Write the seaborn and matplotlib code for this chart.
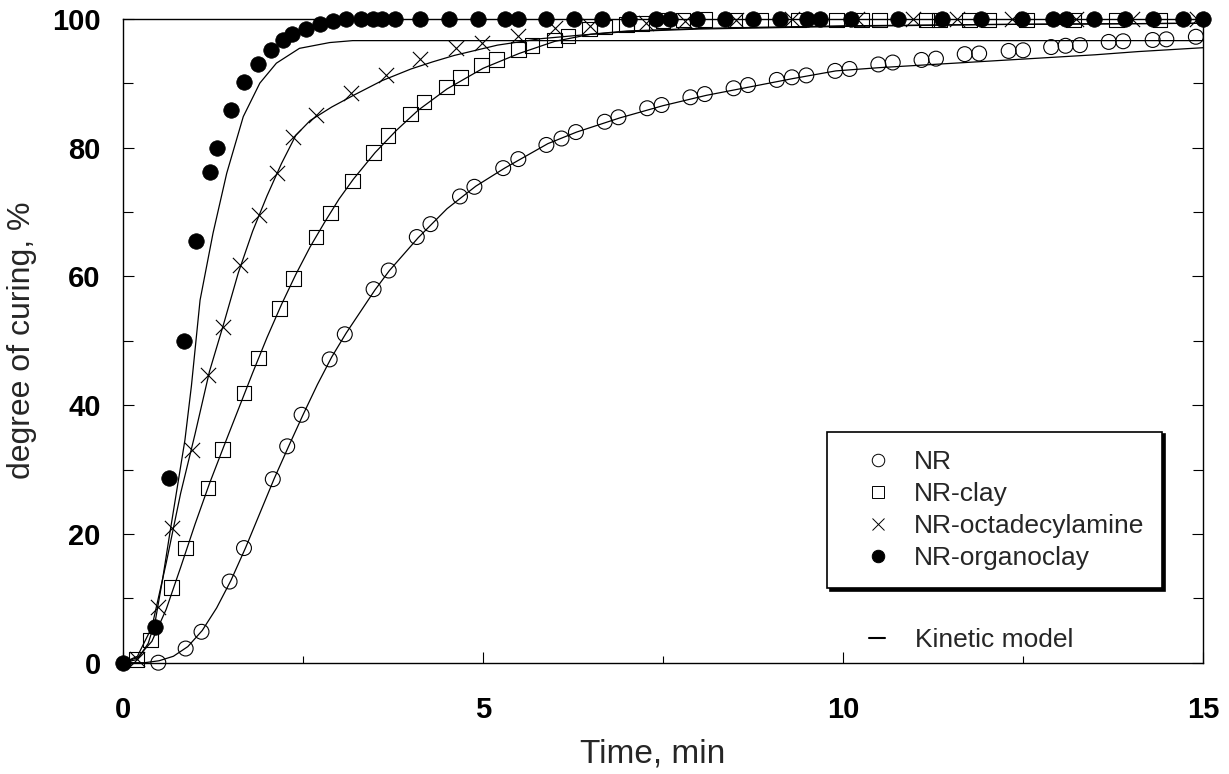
import numpy as np
import pandas as pd
import matplotlib
matplotlib.use("Agg")
import matplotlib.pyplot as plt
from matplotlib.lines import Line2D
from matplotlib.ticker import MultipleLocator
import seaborn as sns

# Measured cure data (time in min, degree of curing in %)
nr_t = [0.49, 0.87, 1.09, 1.48, 1.68, 2.08, 2.28, 2.48, 2.87, 3.08,
        3.48, 3.69, 4.08, 4.27, 4.68, 4.88, 5.28, 5.49, 5.88, 6.09,
        6.29, 6.69, 6.88, 7.28, 7.48, 7.88, 8.08, 8.48, 8.68, 9.08,
        9.29, 9.49, 9.89, 10.09, 10.49, 10.69, 11.09, 11.29, 11.69, 11.89,
        12.3, 12.5, 12.89, 13.09, 13.29, 13.69, 13.89, 14.3, 14.49, 14.9]
nr_y = [0.0, 2.2, 4.8, 12.6, 17.8, 28.5, 33.6, 38.5, 47.1, 51.0,
        58.0, 60.9, 66.1, 68.1, 72.4, 73.9, 76.8, 78.2, 80.4, 81.4,
        82.4, 84.0, 84.7, 86.1, 86.6, 87.8, 88.3, 89.2, 89.7, 90.5,
        90.9, 91.2, 91.9, 92.2, 92.9, 93.2, 93.6, 93.8, 94.5, 94.6,
        95.0, 95.1, 95.6, 95.8, 95.9, 96.4, 96.5, 96.7, 96.8, 97.2]

clay_t = [0.19, 0.38, 0.67, 0.87, 1.18, 1.38, 1.68, 1.88, 2.17, 2.37,
          2.68, 2.88, 3.19, 3.48, 3.68, 3.99, 4.18, 4.49, 4.69, 4.98,
          5.19, 5.49, 5.68, 5.99, 6.18, 6.48, 6.69, 6.99, 7.2, 7.5,
          7.78, 8.08, 8.5, 8.85, 9.38, 9.91, 10.26, 10.51, 11.16, 11.34,
          11.76, 12.02, 12.55, 13.2, 13.8, 14.4]
clay_y = [0.5, 3.5, 11.7, 17.8, 27.1, 33.1, 41.9, 47.3, 55.0, 59.7,
          66.1, 69.8, 74.8, 79.2, 81.9, 85.2, 87.1, 89.4, 90.9, 92.8,
          93.7, 95.2, 95.8, 96.7, 97.3, 98.4, 98.7, 99.1, 99.3, 99.7,
          99.8, 99.9, 99.8, 99.8, 99.8, 99.8, 99.8, 99.8, 99.8, 99.8,
          99.8, 99.8, 99.8, 99.8, 99.8, 99.8]

octa_t = [0.19, 0.48, 0.68, 0.96, 1.18, 1.39, 1.62, 1.89, 2.14, 2.36,
          2.68, 3.16, 3.65, 4.13, 4.62, 4.98, 5.49, 6.0, 6.48, 7.26,
          7.8, 8.52, 9.29, 10.19, 10.97, 11.58, 12.34, 13.24, 14.01, 14.91]
octa_y = [0.5, 8.6, 20.9, 33.0, 44.7, 52.2, 61.8, 69.5, 76.1, 81.6,
          85.0, 88.5, 91.3, 93.7, 95.4, 96.3, 97.3, 98.6, 98.8, 99.3,
          99.6, 99.8, 99.9, 100, 100, 100, 100, 100, 100, 100]

org_t = [0.0, 0.45, 0.64, 0.84, 1.01, 1.21, 1.30, 1.50, 1.68, 1.87,
         2.06, 2.22, 2.35, 2.54, 2.74, 2.92, 3.10, 3.31, 3.47, 3.59,
         3.78, 4.13, 4.53, 4.93, 5.31, 5.49, 5.88, 6.26, 6.65, 7.03,
         7.40, 7.60, 7.97, 8.36, 8.75, 9.13, 9.50, 9.68, 10.11, 10.76,
         11.37, 11.92, 12.48, 12.92, 13.10, 13.49, 13.92, 14.31, 14.72, 15.0]
org_y = [0.0, 5.6, 28.7, 49.9, 65.5, 76.2, 80.0, 85.9, 90.1, 93.0,
         95.1, 96.7, 97.6, 98.4, 99.2, 99.7, 99.9, 100, 100, 100,
         100, 100, 100, 100, 100, 100, 100, 100, 100, 100,
         100, 100, 100, 100, 100, 100, 100, 100, 100, 100,
         100, 100, 100, 100, 100, 100, 100, 100, 100, 100]

# Kinetic model curves
nr_model_t = [0, 0.3, 0.5, 0.7, 0.9, 1.1, 1.3, 1.5, 1.7, 1.9, 2.1, 2.3, 2.5,
              2.7, 2.9, 3.1, 3.5, 3.7, 4.1, 4.5, 4.9, 5.3, 5.9, 6.3, 6.9,
              7.5, 8.1, 8.7, 9.3, 9.9, 10.5, 11.1, 11.7, 12.3, 12.9, 13.5,
              14.1, 15.0]
nr_model_y = [0, 0, 0.3, 1.0, 2.5, 5.0, 8.5, 12.8, 17.8, 23.2, 28.6, 33.6, 38.5,
              43.2, 47.5, 51.2, 57.9, 60.9, 66.0, 70.5, 74.0, 76.8, 80.6, 82.4, 84.6,
              86.5, 88.1, 89.4, 90.7, 91.9, 92.4, 92.8, 93.2, 93.6, 94.0, 94.4,
              94.9, 95.5]

clay_model_t = [0, 0.2, 0.4, 0.6, 0.8, 1.0, 1.2, 1.4, 1.6, 1.8, 2.0, 2.2, 2.4,
                2.6, 2.8, 3.0, 3.2, 3.5, 3.8, 4.1, 4.5, 5.0, 5.5, 6.0, 6.5,
                7.0, 8.0, 10.0, 12.0, 15.0]
clay_model_y = [0, 0.8, 3.3, 8.3, 14.8, 21.5, 27.8, 33.6, 39.3, 45.0, 50.5, 55.6, 60.3,
                64.6, 68.4, 72.0, 75.1, 79.2, 82.7, 85.8, 89.1, 92.3, 94.6, 96.5, 97.6,
                98.1, 98.5, 98.9, 99.1, 99.3]

octa_model_t = [0, 0.2, 0.4, 0.6, 0.8, 1.0, 1.2, 1.4, 1.6, 1.8, 2.0, 2.2, 2.4,
                2.6, 2.9, 3.2, 3.6, 4.0, 4.3, 4.6, 5.2, 5.8, 6.4, 7.0, 8.0,
                10.0, 12.0, 15.0]
octa_model_y = [0, 1.0, 5.5, 15.5, 26.3, 35.5, 45.2, 52.7, 60.5, 67.0, 72.5, 77.5, 81.9,
                84.2, 86.3, 88.1, 90.4, 92.2, 93.3, 94.3, 95.9, 96.9, 97.5, 98.0, 98.4,
                98.8, 99.1, 99.3]

org_model_t = [0, 0.2, 0.35, 0.45, 0.55, 0.65, 0.75, 0.86, 0.95, 1.07, 1.25,
               1.44, 1.67, 1.9, 2.13, 2.45, 2.87, 3.19, 15.0]
org_model_y = [0, 0.5, 3.0, 6.6, 13.0, 20.1, 27.0, 34.6, 43.0, 56.3, 66.7,
               76.0, 84.8, 90.0, 93.1, 95.4, 96.3, 96.6, 96.6]

labels = ["NR", "NR-clay", "NR-octadecylamine", "NR-organoclay"]
points = [(nr_t, nr_y), (clay_t, clay_y), (octa_t, octa_y), (org_t, org_y)]
models = [(nr_model_t, nr_model_y), (clay_model_t, clay_model_y),
          (octa_model_t, octa_model_y), (org_model_t, org_model_y)]
marker_styles = [
    dict(marker="o", facecolors="none", edgecolors="black", linewidths=0.8, s=115),
    dict(marker="s", facecolors="none", edgecolors="black", linewidths=0.8, s=110),
    dict(marker="x", color="black", linewidths=0.8, s=120),
    dict(marker="o", facecolors="black", edgecolors="black", linewidths=0.5, s=125),
]

sns.set_theme(style="ticks")
plt.rcParams["font.family"] = ["Liberation Sans", "DejaVu Sans"]
plt.rcParams["axes.edgecolor"] = "black"
plt.rcParams["axes.linewidth"] = 1.0

fig = plt.figure(figsize=(12.29, 7.74), dpi=100)
ax = fig.add_axes([0.1001, 0.1438, 0.8788, 0.8320])

for (mt, my) in models:
    df = pd.DataFrame({"t": mt, "y": my})
    sns.lineplot(data=df, x="t", y="y", ax=ax, color="black", lw=0.9,
                 estimator=None, sort=False)

handles = []
for lab, (pt, py), st in zip(labels, points, marker_styles):
    df = pd.DataFrame({"t": pt, "y": py})
    sns.scatterplot(data=df, x="t", y="y", ax=ax, clip_on=False, zorder=3, **st)
    if st["marker"] == "x":
        h = Line2D([], [], ls="none", marker="x", color="black",
                   markersize=9, markeredgewidth=0.7)
    else:
        h = Line2D([], [], ls="none", marker=st["marker"],
                   markerfacecolor=("none" if st["facecolors"] == "none" else "black"),
                   markeredgecolor="black", markersize=9, markeredgewidth=0.7)
    handles.append(h)

ax.set_xlim(0, 15)
ax.set_ylim(0, 100)
ax.xaxis.set_major_locator(MultipleLocator(5))
ax.xaxis.set_minor_locator(MultipleLocator(2.5))
ax.yaxis.set_major_locator(MultipleLocator(20))
ax.yaxis.set_minor_locator(MultipleLocator(10))
ax.tick_params(axis="both", which="both", direction="in", colors="black")
ax.tick_params(axis="y", which="both", left=True, right=True)
ax.tick_params(axis="y", which="major", length=8, width=0.8, pad=16,
               labelsize=21)
ax.tick_params(axis="y", which="minor", length=7, width=0.8)
ax.tick_params(axis="x", which="major", length=8, width=0.8, pad=24,
               labelsize=21)
ax.tick_params(axis="x", which="minor", length=5, width=0.8)
for lab in ax.get_xticklabels() + ax.get_yticklabels():
    lab.set_fontweight("bold")

for side in ["top", "right", "left", "bottom"]:
    ax.spines[side].set_visible(True)
    ax.spines[side].set_color("black")

ax.set_xlabel("Time, min", fontsize=24)
ax.xaxis.set_label_coords(0.49, -0.118)
ax.set_ylabel("degree of curing, %", fontsize=23)
ax.yaxis.set_label_coords(-0.080, 0.5)

leg = ax.legend(handles, labels, loc="upper left",
                bbox_to_anchor=(0.652, 0.359), borderaxespad=0.0,
                fontsize=19, frameon=True, fancybox=False, edgecolor="black",
                framealpha=1, borderpad=0.7, labelspacing=0.3,
                handlelength=2.47, handletextpad=0.1,
                shadow={"color": "black", "alpha": 1.0})
leg.get_frame().set_linewidth(1.2)
ax.add_artist(leg)

model_handle = Line2D([], [], color="black", lw=1.5)
ax.legend([model_handle], ["Kinetic model"], loc="upper left",
          bbox_to_anchor=(0.669, 0.091), fontsize=19, frameon=False,
          handlelength=0.6, handletextpad=1.12)

fig.savefig("out.png", dpi=100, facecolor="white")
